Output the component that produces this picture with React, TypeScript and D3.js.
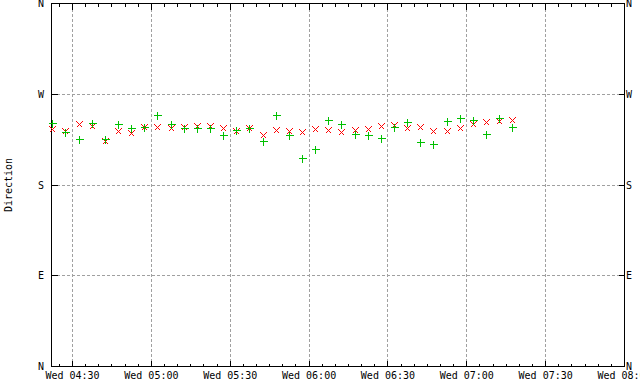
import React from "react";
import * as d3 from "d3";

const times = [
  "04:22:30", "04:27:30", "04:32:30", "04:37:30", "04:42:30", "04:47:30",
  "04:52:30", "04:57:30", "05:02:30", "05:07:30", "05:12:30", "05:17:30",
  "05:22:30", "05:27:30", "05:32:30", "05:37:30", "05:42:30", "05:47:30",
  "05:52:30", "05:57:30", "06:02:30", "06:07:30", "06:12:30", "06:17:30",
  "06:22:30", "06:27:30", "06:32:30", "06:37:30", "06:42:30", "06:47:30",
  "06:52:30", "06:57:30", "07:02:30", "07:07:30", "07:12:30", "07:17:30",
];

const redDir = [
  235, 233, 240, 238, 223, 233, 231, 237, 237, 236, 237, 238,
  238, 236, 233, 236, 229, 234, 233, 232, 235, 234, 232, 234,
  235, 238, 239, 236, 237, 233, 233, 236, 240, 242, 243, 244,
];

const greenDir = [
  241, 232, 225, 241, 225, 240, 236, 237, 249, 240, 236, 236,
  236, 229, 234, 236, 223, 249, 229, 206, 215, 244, 240, 230,
  229, 226, 237, 242, 222, 220, 243, 246, 244, 230, 246, 237,
];

const yTickValues = [0, 90, 180, 270, 360];
const yTickLabels = ["N", "E", "S", "W", "N"];
const xStart = "04:22:00";
const xEnd = "08:00:00";
const yTitle = "Direction";

const toDate = (s: string) => {
  const [h, m, sec] = s.split(":").map(Number);
  return new Date(2024, 0, 3, h, m, sec); // a Wednesday
};

const W = 640;
const H = 384;
const L = 51.5, R = 624.5, T = 3.5, B = 366.5;

export default function App() {
  const x = d3.scaleTime().domain([toDate(xStart), toDate(xEnd)]).range([L, R]);
  const y = d3.scaleLinear().domain([0, 360]).range([B, T]);
  const majorTicks = x.ticks(d3.timeMinute.every(30) as any);
  const minorTicks = x.ticks(d3.timeMinute.every(5) as any);
  const fmt = d3.timeFormat("%a %H:%M");
  const font = "'DejaVu Sans Mono', monospace";
  const px = (v: number) => Math.round(v - 0.5) + 0.5;

  return (
    <svg width={W} height={H} style={{ position: "absolute", left: 0, top: 0, background: "#fff" }}
      fontFamily={font} fontSize={10}>
      <rect x={0} y={0} width={W} height={H} fill="#fff" />
      {/* grid */}
      <g stroke="#a0a0a0" strokeWidth={1} strokeDasharray="3,2" shapeRendering="crispEdges">
        {majorTicks.map((t, i) => (
          <line key={"gx" + i} x1={px(x(t))} x2={px(x(t))} y1={T} y2={B} />
        ))}
        {yTickValues.filter(v => v > 0 && v < 360).map((v, i) => (
          <line key={"gy" + i} x1={L} x2={R} y1={px(y(v))} y2={px(y(v))} />
        ))}
      </g>
      {/* ticks */}
      <g stroke="#000" strokeWidth={1} shapeRendering="crispEdges">
        {minorTicks.map((t, i) => (
          <g key={"mt" + i}>
            <line x1={px(x(t))} x2={px(x(t))} y1={B} y2={B - 3} />
            <line x1={px(x(t))} x2={px(x(t))} y1={T} y2={T + 3} />
          </g>
        ))}
        {majorTicks.map((t, i) => (
          <g key={"Mt" + i}>
            <line x1={px(x(t))} x2={px(x(t))} y1={B} y2={B - 6} />
            <line x1={px(x(t))} x2={px(x(t))} y1={T} y2={T + 6} />
          </g>
        ))}
        {yTickValues.map((v, i) => (
          <g key={"yt" + i}>
            <line x1={L} x2={L + 6} y1={px(y(v))} y2={px(y(v))} />
            <line x1={R} x2={R - 6} y1={px(y(v))} y2={px(y(v))} />
          </g>
        ))}
        <rect x={L} y={T} width={R - L} height={B - T} fill="none" />
      </g>
      {/* labels */}
      <g fill="#000">
        {majorTicks.map((t, i) => (
          <text key={"xl" + i} x={x(t)} y={378.5} textAnchor="middle">{fmt(t)}</text>
        ))}
        {yTickValues.map((v, i) => (
          <g key={"yl" + i}>
            <text x={44} y={y(v) + 3.5} textAnchor="end">{yTickLabels[i]}</text>
            <text x={626} y={y(v) + 3.5} textAnchor="start">{yTickLabels[i]}</text>
          </g>
        ))}
        <text transform={`translate(11.5,185) rotate(-90)`} textAnchor="middle">{yTitle}</text>
      </g>
      {/* red crosses */}
      <g stroke="#ff0000" strokeWidth={1} shapeRendering="crispEdges">
        {times.map((t, i) => {
          const cx = px(x(toDate(t)));
          const cy = px(y(redDir[i]));
          return (
            <g key={"r" + i}>
              <line x1={cx - 3} y1={cy - 3} x2={cx + 3} y2={cy + 3} />
              <line x1={cx - 3} y1={cy + 3} x2={cx + 3} y2={cy - 3} />
            </g>
          );
        })}
      </g>
      {/* green pluses */}
      <g stroke="#00c000" strokeWidth={1} shapeRendering="crispEdges">
        {times.map((t, i) => {
          const cx = px(x(toDate(t)));
          const cy = px(y(greenDir[i]));
          return (
            <g key={"g" + i}>
              <line x1={cx - 4} y1={cy} x2={cx + 4} y2={cy} />
              <line x1={cx} y1={cy - 4} x2={cx} y2={cy + 4} />
            </g>
          );
        })}
      </g>
    </svg>
  );
}
